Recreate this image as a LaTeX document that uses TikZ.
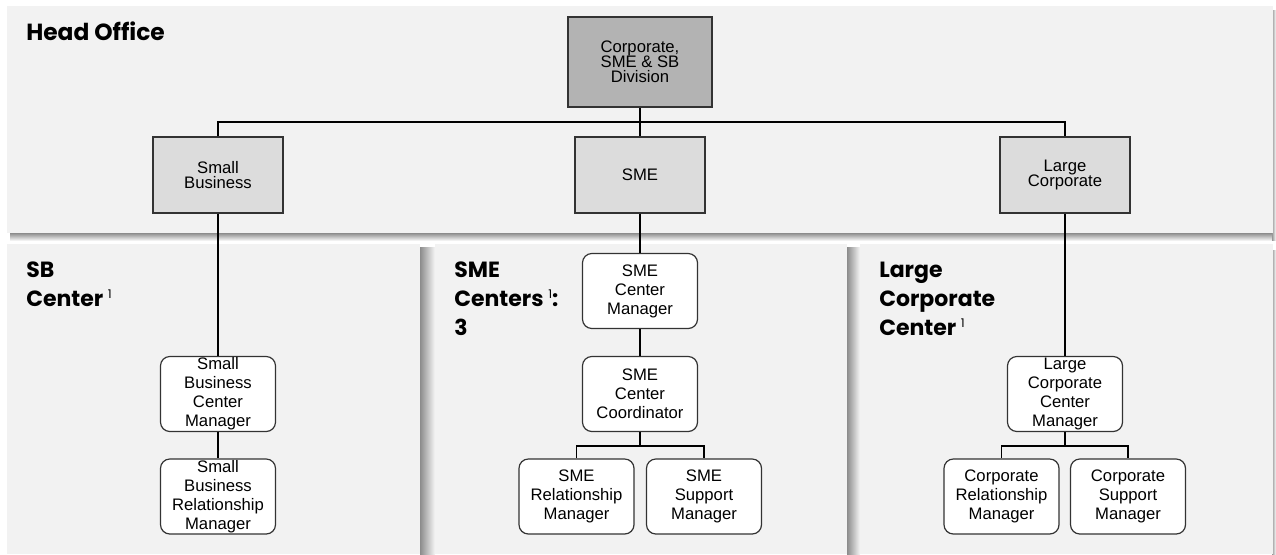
\documentclass[tikz,border=0pt]{standalone}
\usepackage{fontspec}
\setmainfont{Liberation Sans}
\newfontfamily\gothic{Poppins}
\definecolor{panelgray}{HTML}{F2F2F2}
\definecolor{topgray}{HTML}{B3B3B3}
\definecolor{midgray}{HTML}{DCDCDC}
\definecolor{boxline}{HTML}{333333}
\newcommand{\fnmark}{{\mdseries\fontsize{9}{9}\selectfont\raisebox{6pt}{1}}}
\begin{document}
\begin{tikzpicture}[x=0.75pt,y=-0.75pt,
  panel/.style={fill=panelgray,draw=none},
  boxbase/.style={draw=boxline,line width=0.9pt,inner sep=0pt,align=center},
  topbox/.style={boxbase,fill=topgray,minimum width=108pt,minimum height=67.5pt,font=\fontsize{12.5}{11.4}\selectfont},
  midbox/.style={boxbase,fill=midgray,minimum width=97.5pt,minimum height=57pt,font=\fontsize{12.5}{11.4}\selectfont},
  rolebox/.style={boxbase,fill=white,rounded corners=7pt,minimum width=86.25pt,minimum height=56.25pt,font=\fontsize{12.5}{14.3}\selectfont},
  paneltitle/.style={anchor=north west,inner sep=0pt,align=left,font=\gothic\bfseries\fontsize{16.5}{21.75}\selectfont},
  conn/.style={draw=black,line width=0.8pt}
]
\useasboundingbox (0,0) rectangle (1276,554);
\fill[white] (0,0) rectangle (1276,554);
% shadows
\shade[top color=black!45,bottom color=white] (10,233) rectangle (1276,241);
\shade[left color=black!40,right color=white] (1272,10) rectangle (1276,240);
\shade[left color=black!45,right color=black!4] (420,247) rectangle (435,554);
\shade[left color=black!45,right color=black!4] (847,247) rectangle (860,554);
\shade[left color=black!40,right color=white] (1272,250) rectangle (1276,554);
% panels
\fill[panel] (7,6) rectangle (1273,233);
\fill[panel] (7,244) rectangle (420,554);
\fill[panel] (435,244) rectangle (847,554);
\fill[panel] (860,244) rectangle (1273,554);
% titles
\node[paneltitle,font=\gothic\bfseries\fontsize{17.5}{21.75}\selectfont] (tho) at (26,22) {Head Office};
\node[paneltitle] (tsb) at (26,262) {SB\\Center \fnmark};
\node[paneltitle] (tsme) at (454,262) {SME\\Centers \fnmark:\\3};
\node[paneltitle] (tlc) at (879,262) {Large\\Corporate\\Center \fnmark};
% head office boxes
\node[topbox] (div) at (640,62) {Corporate,\\SME \& SB\\Division};
\node[midbox] (sb) at (218,175) {Small\\Business};
\node[midbox] (sme) at (640,175) {SME};
\node[midbox] (lc) at (1065,175) {Large\\Corporate};
% center boxes
\node[rolebox] (sbcm) at (218,394) {Small\\Business\\Center\\Manager};
\node[rolebox] (sbrm) at (218,496.5) {Small\\Business\\Relationship\\Manager};
\node[rolebox] (smecm) at (640,291) {SME\\Center\\Manager};
\node[rolebox] (smecc) at (640,394) {SME\\Center\\Coordinator};
\node[rolebox] (smerm) at (576.5,496.5) {SME\\Relationship\\Manager};
\node[rolebox] (smesm) at (704,496.5) {SME\\Support\\Manager};
\node[rolebox] (lccm) at (1065,394) {Large\\Corporate\\Center\\Manager};
\node[rolebox] (lcrm) at (1001.5,496.5) {Corporate\\Relationship\\Manager};
\node[rolebox] (lcsm) at (1128,496.5) {Corporate\\Support\\Manager};
% junctions
\coordinate (bar) at (640,122);
\coordinate (b1) at (640,446);
\coordinate (b2) at (1065,446);
% connectors
\draw[conn] (div.south) -- (sme.north);
\draw[conn] (sb.north) |- (bar) -| (lc.north);
\draw[conn] (sb.south) -- (sbcm.north);
\draw[conn] (sbcm.south) -- (sbrm.north);
\draw[conn] (sme.south) -- (smecm.north);
\draw[conn] (smecm.south) -- (smecc.north);
\draw[conn] (smecc.south) -- (b1);
\draw[conn] (smerm.north) |- (b1) -| (smesm.north);
\draw[conn] (lc.south) -- (lccm.north);
\draw[conn] (lccm.south) -- (b2);
\draw[conn] (lcrm.north) |- (b2) -| (lcsm.north);
\end{tikzpicture}
\end{document}
